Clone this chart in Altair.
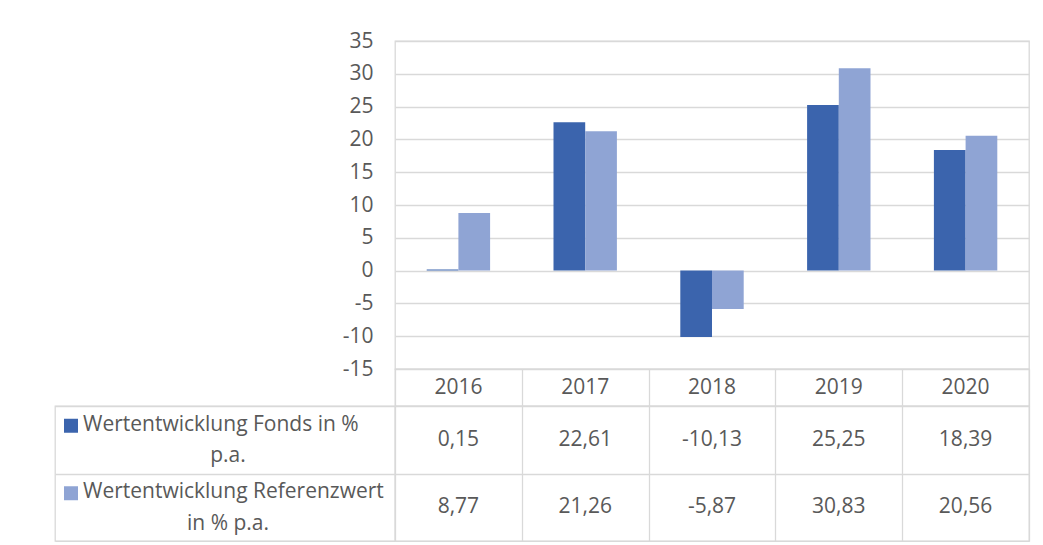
import altair as alt
import pandas as pd

# ---------------- data ----------------
years = ["2016", "2017", "2018", "2019", "2020"]
series = ["Wertentwicklung Fonds in % p.a.", "Wertentwicklung Referenzwert in % p.a."]
fonds = [0.15, 22.61, -10.13, 25.25, 18.39]
referenz = [8.77, 21.26, -5.87, 30.83, 20.56]
label_line1 = ["Wertentwicklung Fonds in %", "Wertentwicklung Referenzwert"]
label_line2 = ["p.a.", "in % p.a."]
y_ticks = [-15, -10, -5, 0, 5, 10, 15, 20, 25, 30, 35]
colors = ["#3B64AD", "#8FA4D4"]

rows = []
for s, vals in zip(series, [fonds, referenz]):
    for yr, v in zip(years, vals):
        rows.append({"year": yr, "series": s, "value": v})
df = pd.DataFrame(rows)
df_labels = pd.DataFrame({"series": series, "line1": label_line1, "line2": label_line2})
df_years = pd.DataFrame({"year": years})

# ---------------- style ----------------
FONT = "Open Sans"
FS = 21
TXT = "#595959"
GRID = "#d9d9d9"
GW = 1.3
PW = 634   # plot / table value columns width
LW = 340   # label column width

color_scale = alt.Scale(domain=series, range=colors)
x_scale = alt.Scale(domain=years, paddingInner=0, paddingOuter=0)
row_scale = alt.Scale(domain=series, paddingInner=0, paddingOuter=0)
frame = alt.ViewBackground(stroke=GRID, strokeWidth=GW)
noframe = alt.ViewBackground(strokeOpacity=0)

grid_x = alt.Axis(grid=True, tickBand="extent", gridColor=GRID, gridWidth=GW,
                  labels=False, ticks=False, domain=False, title=None)
grid_y = alt.Axis(grid=True, tickBand="extent", gridColor=GRID, gridWidth=GW,
                  labels=False, ticks=False, domain=False, title=None)

# ---------------- bar chart ----------------
bars = alt.Chart(df).mark_bar().encode(
    x=alt.X("year:N", scale=x_scale, axis=None),
    xOffset=alt.XOffset("series:N", scale=alt.Scale(domain=series, paddingInner=0, paddingOuter=1)),
    y=alt.Y("value:Q", scale=alt.Scale(domain=[-15, 35], nice=False, zero=False),
            axis=alt.Axis(values=y_ticks, title=None, grid=True, gridColor=GRID, gridWidth=GW,
                          domain=False, ticks=False, labelPadding=22, labelFont=FONT,
                          labelFontSize=FS, labelColor=TXT,
                          labelExpr="datum.value < 0 ? '-' + abs(datum.value) : '' + datum.value")),
    color=alt.Color("series:N", scale=color_scale, legend=None),
).properties(width=PW, height=328, view=frame)

# ---------------- table header (years) ----------------
header = alt.Chart(df_years).mark_text(font=FONT, fontSize=FS, color=TXT).encode(
    x=alt.X("year:N", scale=x_scale, axis=grid_x),
    text="year:N",
).properties(width=PW, height=37, view=frame)

# ---------------- table values ----------------
values_tbl = alt.Chart(df).transform_calculate(
    txt="(datum.value < 0 ? '-' : '') + replace(format(abs(datum.value), '.2f'), '.', ',')"
).mark_text(font=FONT, fontSize=FS, color=TXT).encode(
    x=alt.X("year:N", scale=x_scale, axis=grid_x),
    y=alt.Y("series:N", scale=row_scale, axis=grid_y),
    text="txt:N",
).properties(width=PW, height=135, view=frame)

# ---------------- table label column ----------------
lab_base = alt.Chart(df_labels).encode(
    y=alt.Y("series:N", scale=row_scale, axis=grid_y)
)
keys = lab_base.mark_square(size=196, opacity=1, yOffset=-14).encode(
    x=alt.value(16),
    color=alt.Color("series:N", scale=color_scale, legend=None),
)
line1 = lab_base.mark_text(align="left", dy=-15, font=FONT, fontSize=FS, color=TXT).encode(
    x=alt.value(28), text="line1:N"
)
line2 = lab_base.mark_text(align="center", dy=16.5, font=FONT, fontSize=FS, color=TXT).encode(
    x=alt.value(173), text="line2:N"
)
labels = alt.layer(keys, line1, line2).properties(width=LW, height=135, view=frame)

# ---------------- spacers ----------------
spacer1 = alt.Chart(df_years).mark_text(text="").properties(width=LW, height=328, view=noframe)
spacer2 = alt.Chart(df_years).mark_text(text="").properties(width=LW, height=37, view=noframe)

chart = alt.concat(
    spacer1, bars, spacer2, header, labels, values_tbl,
    columns=2, spacing=0, bounds="flush",
).properties(
    padding={"left": 46, "top": 21, "right": 5, "bottom": 0}
).configure(font=FONT).configure_view(stroke=GRID, strokeWidth=GW)

chart.save("out.html", embed_options={"renderer": "svg", "actions": False})
